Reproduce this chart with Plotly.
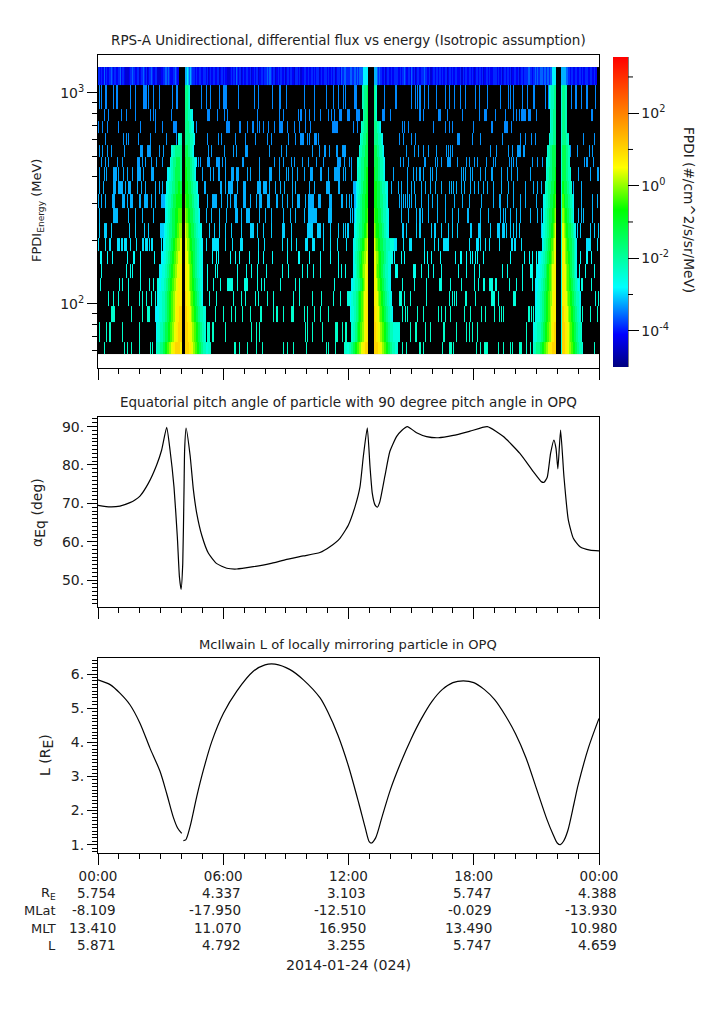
import numpy as np
import plotly.graph_objects as go

# --- data ---

# channel edges (MeV), top row first
ENERGY_EDGES = [1327, 1094, 841.2, 737.8, 647, 567.4, 497.7, 446, 382.8, 332, 284.8,
                241.7, 205.2, 178, 154.4, 132.5, 114.9, 97.5, 81.9, 65.8, 57.7]
N_BINS = 480          # 3 minute time bins
BIN_HOURS = 0.05

# log10 flux behind each letter used in the level strings
LEVEL_CHARS = "zabcdefghijklmno"
LEVEL_LOGS = [-4.4, -4.15, -3.9, -3.6, -3.2, -2.85, -2.5, -2.2, -1.8, -1.3, -0.8, -0.35, 0.0, 0.4, 0.7, 1.0]

# top channel, 10 bins per chunk ('.' = no data)
TOP_ROW = [
    "bbabaacaba", "abcbabbaab", "bcabbazzzz", "abbcbaabbz", "abbcbabzab", "bcbaabbzzz",
    "aabbccbcba", "aabbcbaa..", "...ddedcdc", "bbbabaabba", "abbabzabaa", "bbaabbzabb",
    "abaazzabab", "bacbabbzab", "aabbaabzab", "abbzaabbab", "bbcbccbabb", "zababbaabz",
    "abbabbaazb", "bbabzaabba", "abaabbabab", "bbzabaabba", "baababbzab", "bbacbbccbb",
    "bccbbccbcb", "cccceeeee.", "....dddcbc", "bbaabzabba", "abaabbbaab", "abbcbaabba",
    "cbabzabbab", "bbcbbaabzz", "abbabbabba", "babbzabbab", "aabbaaabzz", "babbabbaba",
    "zabbabbabz", "aabbabaabb", "bbabaabzab", "babbabzaab", "aabzabbabb", "bbccbbabbc",
    "bcbcccbccb", "ccbcceeee.", "....ddddcc", "bbabbaabba", "abbabaabba", "abbaabaa..",
]

# single-count flux per channel (rows 1..19)
SPECKLE_LOG = [-3.4, -3.4, -3.4, -3.35, -3.3, -3.3, -3.25, -3.2, -3.2, -3.15, -3.05, -2.95, -2.8,
               -2.65, -2.55, -2.5, -2.4, -2.35, -2.35]

# time bins with a count, rows 1..19
SPECKLE_BINS = [
    [1, 3, 7, 8, 14, 17, 18, 31, 35, 43, 44, 45, 46, 48, 53, 58, 71, 75, 76, 99, 103, 107, 116, 120, 121, 122, 123,
     134, 149, 153, 167, 173, 174, 180, 197, 207, 218, 225, 230, 235, 237, 245, 246, 247, 274, 285, 300, 304, 306,
     308, 312, 316, 324, 332, 336, 341, 347, 352, 361, 365, 373, 385, 393, 395, 398, 406, 411, 417, 418, 428, 431,
     453, 457, 458, 463, 468, 476],
    [6, 10, 22, 27, 35, 50, 53, 55, 70, 104, 105, 106, 114, 121, 124, 152, 173, 177, 192, 194, 198, 202, 207, 213,
     220, 223, 226, 231, 232, 233, 239, 240, 247, 248, 249, 250, 272, 273, 274, 280, 308, 311, 326, 327,
     328, 334, 349, 365, 370, 371, 372, 380, 390, 398, 400, 403, 405, 406, 407, 408, 409, 412, 413, 414, 420, 472, 473],
    [0, 4, 9, 19, 40, 55, 61, 72, 73, 74, 75, 94, 123, 124, 125, 135, 136, 143, 148, 152, 154, 158, 163, 169, 173,
     174, 175, 176, 181, 188, 193, 198, 203, 224, 225, 226, 227, 228, 229, 244, 248, 291, 293, 297, 321, 332, 336,
     339, 359, 377, 389, 390, 391, 392, 396],
    [7, 24, 27, 29, 38, 50, 65, 75, 104, 115, 118, 131, 141, 150, 162, 166, 182, 189, 194, 195, 196, 200, 202, 207,
     208, 209, 211, 271, 288, 292, 300, 304, 344, 345, 346, 358, 366, 387, 404, 409, 415, 419, 465, 475],
    [1, 4, 9, 12, 25, 40, 41, 42, 47, 48, 49, 50, 58, 62, 105, 108, 121, 129, 132, 141, 142, 143, 164, 175, 180, 205,
     212, 217, 221, 228, 229, 234, 235, 236, 237, 273, 295, 303, 307, 311, 316, 324, 333, 335, 337, 339, 376, 381,
     393, 397, 401, 402, 403, 404, 407, 408, 452, 459, 470, 473],
    [3, 7, 10, 18, 23, 37, 38, 39, 42, 45, 51, 56, 61, 96, 98, 104, 105, 106, 113, 114, 115, 116, 119, 122, 138, 139,
     154, 169, 173, 177, 185, 188, 195, 201, 209, 216, 229, 230, 231, 232, 236, 240, 242, 272, 273, 289, 292, 297,
     312, 313, 323, 325, 329, 334, 335, 336, 337, 344, 353, 355, 360, 363, 372, 378, 380, 394, 396, 398, 400, 416,
     421, 425, 429, 466, 468, 474],
    [1, 6, 8, 14, 15, 16, 17, 19, 24, 28, 33, 37, 38, 39, 40, 43, 51, 52, 53, 100, 107, 110, 115, 116, 122, 127, 128,
     129, 132, 133, 134, 143, 146, 154, 164, 165, 166, 173, 180, 182, 186, 191, 197, 203, 204, 205, 213, 214, 220,
     226, 227, 228, 229, 230, 231, 235, 237, 242, 283, 296, 302, 305, 308, 311, 318, 320, 324, 348, 350, 352, 356,
     358, 366, 371, 377, 386, 392, 396, 401, 414, 460, 471, 478, 479],
    [1, 5, 14, 15, 16, 19, 20, 21, 22, 23, 26, 29, 30, 31, 37, 41, 45, 55, 58, 61, 102, 117, 118, 122, 125, 126, 127,
     128, 133, 139, 140, 141, 152, 153, 154, 155, 158, 159, 160, 161, 164, 170, 174, 178, 186, 189, 202, 207, 218,
     219, 220, 221, 230, 231, 244, 245, 246, 281, 287, 290, 296, 300, 303, 309, 313, 318, 323, 329, 336, 338, 340,
     343, 348, 351, 356, 360, 364, 369, 373, 378, 386, 393, 398, 409, 417, 421, 424, 455, 463],
    [0, 3, 7, 13, 14, 15, 23, 24, 25, 28, 31, 32, 33, 39, 40, 44, 45, 46, 47, 51, 55, 60, 61, 62, 63,
     104, 109, 110, 111, 112, 113, 118, 124, 126, 130, 131, 132, 139, 140, 141, 146, 151, 154, 155, 156, 162, 163,
     164, 171, 176, 181, 186, 191, 192, 193, 198, 201, 202, 203, 204, 205, 206, 211, 212, 213, 221, 222, 223, 233,
     234, 238, 240, 242, 245, 246, 288, 290, 292, 294, 296, 298, 300, 304, 309, 316, 320, 325, 332, 341, 349, 355,
     367, 378, 384, 385, 392, 398, 404, 409, 420, 455, 463, 473, 478],
    [1, 14, 15, 16, 17, 18, 29, 35, 42, 53, 103, 108, 116, 123, 131, 132, 133, 137, 142, 143, 144, 145, 154, 160,
     166, 177, 184, 189, 197, 201, 202, 203, 204, 205, 206, 207, 208, 209, 220, 221, 222, 223, 241, 243, 245, 246,
     290, 297, 305, 308, 310, 316, 325, 332, 339, 345, 354, 366, 374, 385, 388, 390, 395, 400, 404, 414, 421, 424,
     460, 463, 465, 473],
    [1, 6, 7, 8, 12, 30, 35, 44, 48, 59, 60, 61, 62, 63, 106, 111, 116, 122, 127, 137, 146, 147, 148, 152, 158, 166,
     176, 177, 178, 185, 200, 201, 202, 203, 204, 205, 210, 211, 212, 213, 216, 222, 230, 235, 237, 239, 291, 292,
     295, 305, 308, 319, 322, 323, 329, 335, 339, 344, 356, 357, 364, 365, 366, 376, 382, 383, 384, 387, 388, 389,
     391, 395, 398, 400, 403, 424, 425, 459, 462, 471, 475, 479],
    [0, 7, 11, 18, 19, 20, 22, 23, 25, 26, 27, 31, 36, 42, 43, 45, 46, 47, 49, 51, 52, 60, 103,
     109, 110, 111, 112, 113, 114, 115, 122, 128, 136, 137, 138, 153, 159, 176, 181, 185, 190, 198, 199, 200, 205,
     206, 207, 216, 222, 229, 238, 283, 284, 285, 292, 298, 299, 300, 312, 322, 326, 331, 332, 333, 334, 335, 355,
     362, 363, 364, 366, 371, 375, 384, 396, 397, 399, 405, 458, 468, 469, 470, 471, 478],
    [2, 3, 9, 13, 28, 34, 40, 54, 60, 109, 113, 115, 126, 131, 135, 145, 153, 158, 167, 181, 192, 193, 202, 213, 222,
     230, 284, 290, 293, 312, 315, 319, 328, 342, 347, 348, 353, 356, 358, 361, 363, 369, 395, 408, 413, 416, 420,
     457, 462, 468, 472],
    [3, 27, 31, 33, 40, 104, 112, 114, 133, 142, 147, 152, 161, 176, 182, 195, 200, 206, 213, 230, 233, 237, 285,
     286, 302, 303, 304, 309, 316, 321, 329, 345, 353, 360, 365, 387, 392, 406, 414, 415, 416, 420, 461, 467, 475],
    [2, 20, 23, 29, 40, 49, 53, 57, 104, 110, 117, 124, 125, 126, 127, 128, 133, 140, 141, 142, 143, 152, 156, 159,
     174, 189, 193, 226, 291, 303, 314, 327, 328, 329, 337, 348, 360, 364, 369, 370, 375, 376, 377, 380, 381, 394,
     400, 406, 416, 461, 463, 464, 472],
    [10, 14, 19, 29, 39, 42, 46, 51, 55, 106, 113, 129, 137, 141, 150, 153, 162, 168, 187, 193, 205, 214, 225, 232,
     239, 240, 241, 243, 288, 289, 290, 293, 299, 314, 336, 339, 341, 343, 352, 353, 361, 377, 378, 379, 383, 398,
     399, 476, 479],
    [12, 13, 14, 15, 32, 42, 47, 48, 49, 55, 56, 57, 58, 59, 60, 112, 120, 127, 131, 138, 146, 155, 156, 168, 171,
     177, 185, 186, 187, 197, 200, 207, 213, 220, 291, 294, 296, 306, 311, 326, 329, 332, 337, 351, 356, 367, 371,
     379, 384, 386, 388, 412, 413, 415, 417, 464, 471, 478],
    [1, 8, 11, 23, 39, 58, 59, 104, 105, 106, 109, 110, 122, 147, 151, 154, 198, 200, 205, 215, 227, 228,
     229, 234, 237, 238, 299, 304, 305, 313, 318, 331, 343, 353, 355, 358, 363, 410],
    [6, 25, 28, 32, 39, 50, 52, 104, 105, 106, 107, 130, 131, 135, 143, 151, 157, 177, 181, 187, 199, 218, 220, 227,
     236, 237, 238, 239, 240, 291, 295, 308, 311, 330, 336, 337, 338, 340, 362, 366, 370, 371, 372, 373, 383, 388,
     395, 397, 403, 404, 405, 410, 414, 463, 475],
]

# belt crossings: levels outer to inner for the arm before the gap, inner to outer after it (rows 1..19)
BAND_GAPS = [(80, 83), (259, 264), (439, 444)]
BAND_1_LEFT = ["", "", "", "ffg", "ffgghhhhhh", "fgghhhiiiih", "eeffgghhiiiiih", "effggghhhiiijji",
               "effggghhiiijjjjj", "effgghhiiijjjkkk", "effgghhhiiijjkkll", "eefggghhiijjkklllm",
               "eeffgghhiijjkkllmmm", "eeefffgghhiijjkkllmmmn", "eefffgghhiijjkkllmmnnn",
               "efffggghhiijjkkllmmnnnn", "eeefffggghhiijjkkllmnnnoo", "effggghhiiijjkkllmmnnooo",
               "fgghhhiijjkkllmmnnooooon"]
BAND_1_RIGHT = ["hhhgf", "hhhggffe", "hhhhggffe", "hhhhhgggfe", "iiihhggfe", "jiiiihhggfee", "jjiiihhggfe",
                "jjjiiihhgggfe", "kjjjiiihhgggfe", "lkkjjiiihhgggfe", "mllkjjiiihhggfffe", "mmllkjjiiihhggffee",
                "nmmlkkjjiihhggfffe", "nnmmlkkjiihhggfffe", "nnmmlkkjjiihhggffe", "onnmmlkkjjiihhggfe",
                "oonnmmlkkjjiihhgggff", "ooonnmmllkkjjiihhggf", "oooonnmmllkkjjiihhggff"]
BAND_2_LEFT = ["gghhhi", "ghhhi", "fgghhhi", "fgghhhii", "fgghhhiii", "ffgghhhiiii", "fggghhhiijj", "effgghhiiijj",
               "efgghhiiijjj", "efggghhiiijjk", "effgghhhiijjkl", "effgghhiijjkllm", "efgghhiijkkllmm",
               "effghhijjkllmmn", "eeffggghhiijklmmn", "effggghhijjkklmmnn", "efffgghhijjkklmnnn",
               "ffgghhijjkkllmnnn", "fgghhiijjkkllmmnnooo"]
BAND_2_RIGHT = ["hgf", "hgf", "hhhggfe", "hhhhgggfe", "iiihhgggfe", "iiiihhgggfe", "jiiihhgggfe", "jjjiiihhgggffe",
                "jjjiiihhhgggfe", "kjjjiiihhgggffe", "lkjjjiiihhggffe", "mlkkjjiiihhhggggffff", "mmllkjjiiihhggffffe",
                "nmlkkjjiihhgggffe", "nmmlkkjjiihhggffe", "nnmmlkkjjiihhggffe", "onnmmlkkjjiihhggffe",
                "oonnmmllkkjjiihhgggffffff", "oooonnmmllkkjjiihhgggff"]
BAND_3_LEFT = ["ffggghh", "fgghhh", "fgghhh", "fggghhh", "fgghhiiii", "ffgghhiiii", "fgghhhiiij", "fgghhhiiijj",
               "effgghhiiijjk", "efgghhiiijjkl", "effgghhiijjklm", "efgghhiijkklmm", "eeffgghhiijjkllmn",
               "eeffgghhijjkklmmnn", "eeeffgghhiijjkklmmnn", "eeffgghhiijjkkllmnnn", "efffgghhiijjkklmmnnn",
               "efffggghhiijjkkllmnnoo", "fgghhhiijjkkllmmnnoooo"]
BAND_3_RIGHT = ["fhhgg", "fhhgg", "fhhgg", "fhhhggf", "fiiihhgg", "fiiihhgg", "fiiihhggf", "fjiiihhggf",
                "fkjiiihhggfe", "flkjjiihhgge", "fmlkjjiiihhgfe", "fmmlkjjiiihhgfe", "fnmlkkjjiihhgfe",
                "fnmmlkkjiihhgfe", "fnnmlkkjjiihhggfe", "fnnmmlkkjjiihhgggfe", "fonnmmlkkjjiihhggff",
                "foonnmmlkkjjiihhgggf", "foonnmmllkkjjiihhgggf"]

# equatorial pitch angle
PITCH_HOURS = [0, 0.58, 1.05, 1.53, 1.77, 2.01, 2.41, 2.81, 3.05, 3.29, 3.45, 3.64, 3.8, 3.9, 3.98, 4.06, 4.12, 4.15, 4.22,
               4.41, 4.57, 4.73, 4.97, 5.29, 5.69, 6.17, 6.65, 7.44, 8.24, 9.04, 9.84, 10.63, 11.11, 11.59, 11.99,
               12.31, 12.55, 12.71, 12.9, 13.03, 13.14, 13.27, 13.38, 13.5, 13.74, 13.98, 14.3, 14.55, 14.82, 15.26, 15.74,
               16.3, 17.02, 17.82, 18.65, 19.42, 20.21, 20.85, 21.25, 21.37, 21.52, 21.68, 21.84, 21.94, 22.03, 22.16,
               22.32, 22.53, 22.77, 23.09, 23.57, 24]
PITCH_DEG = [69.5, 69.1, 69.3, 70.2, 70.9, 71.9, 75.2, 80, 83.9, 89.8, 83.9, 74.3, 61.3, 50.9, 47.6, 54.3, 73.5, 83.9, 89.6,
             82.6, 73.5, 67.4, 61.7, 57, 54.3, 53.1, 52.9, 53.5, 54.3, 55.4, 56.3, 57.2, 58.7, 60.9, 64.3,
             69.1, 74.3, 82.2, 89.7, 79.6, 72.6, 69.6, 69, 70.4, 77, 83.5, 87.4, 89, 90, 88.4, 87.4,
             87.1, 87.7, 88.8, 90, 87.4, 83, 78.3, 75.6, 75.5, 76.8, 83, 86.5, 84.3, 79, 89.1,
             77, 65.7, 60.9, 58.7, 57.8, 57.6]

# McIlwain L (None = the small break in the line)
L_HOURS = [0, 0.58, 1.05, 1.53, 2.01, 2.49, 2.97, 3.29, 3.61, 3.82, 4.01, 4.05, 4.09, 4.2, 4.41, 4.73, 5.05, 5.45,
           6.01, 6.65, 7.44, 8, 8.48, 9.2, 9.84, 10.64, 11, 11.5, 12, 12.5, 12.8, 13, 13.1, 13.3, 13.6, 14, 14.5, 15,
           15.5, 16, 16.5, 17, 17.5, 18, 18.5, 19, 19.5, 20, 20.5, 21, 21.5, 21.8, 22, 22.15, 22.3, 22.5, 22.8, 23,
           23.5, 24]
L_VALUES = [5.83, 5.69, 5.44, 5.1, 4.56, 3.83, 3.15, 2.5, 1.8, 1.48, 1.33, None, 1.12, 1.14, 1.53, 2.41, 3.19, 4.02,
            4.85, 5.5, 6.08, 6.27, 6.29, 6.13, 5.83, 5.3, 4.9, 4.2, 3.3, 2.2, 1.5, 1.08, 1.05, 1.2, 1.8, 2.6, 3.4, 4.1,
            4.7, 5.2, 5.55, 5.75, 5.8, 5.75, 5.55, 5.25, 4.8, 4.25, 3.55, 2.65, 1.75, 1.3, 1.05, 1.0, 1.1, 1.4, 2.2,
            2.75, 3.85, 4.7]

# ephemeris table under the plots
TICK_HOURS = [0, 6, 12, 18, 24]
TICK_TIMES = ["00:00", "06:00", "12:00", "18:00", "00:00"]
RE_ROW = ["5.754", "4.337", "3.103", "5.747", "4.388"]
MLAT_ROW = ["-8.109", "-17.950", "-12.510", "-0.029", "-13.930"]
MLT_ROW = ["13.410", "11.070", "16.950", "13.490", "10.980"]
L_ROW = ["5.871", "4.792", "3.255", "5.747", "4.659"]

# colour scale stops: (log10 flux, colour)
CBAR_MIN, CBAR_MAX = -5.0, 3.55
CBAR_STOPS = [(-5.0, "#00007f"), (-4.1, "#0000ff"), (-2.8, "#00ffff"), (-0.66, "#00ff00"), (0.5, "#ffff00"), (3.55, "#ff0000")]

# --- page layout (pixels) ---
W, H = 725, 1019
FONT = "DejaVu Sans"
TEXT = "#222222"
X0, X1 = 98, 599
def px(x): return x / W
def py(y): return 1 - y / H

# --- build flux grid ---
level_of = dict(zip(LEVEL_CHARS, LEVEL_LOGS))
z = np.full((20, N_BINS), np.nan)

for i, ch in enumerate("".join(TOP_ROW)[:N_BINS]):
    if ch != ".":
        z[0, i] = level_of[ch]

for r, bins in enumerate(SPECKLE_BINS):
    for b in bins:
        z[r + 1, b] = SPECKLE_LOG[r]

bands = [(BAND_1_LEFT, BAND_1_RIGHT), (BAND_2_LEFT, BAND_2_RIGHT), (BAND_3_LEFT, BAND_3_RIGHT)]
for (left, right), (gap_start, gap_end) in zip(bands, BAND_GAPS):
    for r in range(19):
        start = gap_start - len(left[r])
        z[r + 1, start:gap_end] = np.nan
        for k, ch in enumerate(left[r]):
            z[r + 1, start + k] = level_of[ch]
        for k, ch in enumerate(right[r]):
            z[r + 1, gap_end + k] = level_of[ch]

x_edges = np.arange(N_BINS + 1) * BIN_HOURS
y_edges = ENERGY_EDGES[::-1]
colorscale = [[(v - CBAR_MIN) / (CBAR_MAX - CBAR_MIN), c] for v, c in CBAR_STOPS]

fig = go.Figure()

# black backdrop where no counts were seen
fig.add_trace(go.Heatmap(x=[0, 24], y=y_edges, z=[[0]] * 20, colorscale=[[0, "black"], [1, "black"]],
                         showscale=False, hoverinfo="skip", xaxis="x", yaxis="y"))
fig.add_trace(go.Heatmap(
    x=x_edges, y=y_edges, z=z[::-1], zmin=CBAR_MIN, zmax=CBAR_MAX, colorscale=colorscale, xaxis="x", yaxis="y",
    colorbar=dict(
        x=px(613), xanchor="left", xpad=0, y=py(57), yanchor="top", ypad=0,
        len=310, lenmode="pixels", thickness=15, thicknessmode="pixels", outlinewidth=0,
        tickmode="array", tickvals=[-4, -2, 0, 2],
        ticktext=["10<sup>-4</sup>", "10<sup>-2</sup>", "10<sup>0</sup>", "10<sup>2</sup>"],
        ticks="outside", ticklen=11, tickcolor="black", tickfont=dict(family=FONT, size=14, color=TEXT),
    ),
))
fig.add_trace(go.Scatter(x=PITCH_HOURS, y=PITCH_DEG, mode="lines",
                         line=dict(color="black", width=1.2, shape="spline", smoothing=0.5),
                         xaxis="x2", yaxis="y2", showlegend=False))
fig.add_trace(go.Scatter(x=L_HOURS, y=L_VALUES, mode="lines",
                         line=dict(color="black", width=1.2, shape="spline", smoothing=0.8),
                         xaxis="x3", yaxis="y3", showlegend=False))

# --- axes ---
hour_minor = [h for h in range(25) if h % 6]
def x_axis(anchor, labels=False):
    return dict(domain=[px(X0), px(X1)], range=[0, 24], anchor=anchor, showgrid=False, zeroline=False,
                showline=True, linecolor="black", linewidth=1, mirror=True,
                tickmode="array", tickvals=TICK_HOURS, ticktext=TICK_TIMES, showticklabels=labels,
                ticks="outside", ticklen=11, tickcolor="black", tickfont=dict(family=FONT, size=13.5, color=TEXT),
                minor=dict(tickmode="array", tickvals=hour_minor, ticks="outside", ticklen=5, tickcolor="black"))

def y_axis(anchor, top, bottom, rng, vals, text, minor, kind="linear"):
    return dict(domain=[py(bottom), py(top)], range=rng, type=kind, anchor=anchor, showgrid=False, zeroline=False,
                showline=True, linecolor="black", linewidth=1, mirror=True,
                tickmode="array", tickvals=vals, ticktext=text,
                ticks="outside", ticklen=10, tickcolor="black", tickfont=dict(family=FONT, size=14, color=TEXT),
                minor=dict(tickmode="array", tickvals=minor, ticks="outside", ticklen=5, tickcolor="black"))

energy_minor = [60, 70, 80, 90, 200, 300, 400, 500, 600, 700, 800, 900]
pitch_major = [50, 60, 70, 80, 90]
pitch_minor = [v for v in range(44, 93) if v not in pitch_major]
l_major = [1, 2, 3, 4, 5, 6]
l_minor = [v / 10 for v in range(8, 65) if v % 10]

fig.update_layout(
    width=W, height=H, autosize=False, showlegend=False,
    margin=dict(l=0, r=0, t=0, b=0, autoexpand=False),
    paper_bgcolor="white", plot_bgcolor="white",
    font=dict(family=FONT, size=13, color=TEXT),
    xaxis=x_axis("y"), xaxis2=x_axis("y2"), xaxis3=x_axis("y3", labels=True),
    yaxis=y_axis("x", 55, 368, [1.696, 3.18], [100, 1000], ["10<sup>2</sup>", "10<sup>3</sup>"], energy_minor, "log"),
    yaxis2=y_axis("x2", 417, 607, [43, 92.5], pitch_major, [f"{v}." for v in pitch_major], pitch_minor),
    yaxis3=y_axis("x3", 658, 853, [0.757, 6.47], l_major, [f"{v}." for v in l_major], l_minor),
)

# --- text ---
def label(x, y, text, size=13.5, angle=0, anchor="center"):
    fig.add_annotation(xref="paper", yref="paper", x=px(x), y=py(y), text=text, showarrow=False, textangle=angle,
                       xanchor=anchor, yanchor="middle", font=dict(family=FONT, size=size, color=TEXT))

label(348, 40, "RPS-A Unidirectional, differential flux vs energy (Isotropic assumption)", 13.5)
label(348, 402, "Equatorial pitch angle of particle with 90 degree pitch angle in OPQ", 13.5)
label(348, 644, "McIlwain L of locally mirroring particle in OPQ", 13.1)
label(37, 211, "FPDI<sub>Energy</sub> (MeV)", 13, -90)
label(38, 513, "α<sub><span style='font-size:14px'>Eq</span></sub> (deg)", 14, -90)
label(46, 755, "L (R<sub><span style='font-size:14px'>E</span></sub>)", 14, -90)
label(689, 210, "FPDI (#/cm^2/s/sr/MeV)", 13.7, 90)
label(348, 965, "2014-01-24 (024)", 14.2)

rows = [("R<sub>E</sub>", RE_ROW, 893), ("MLat", MLAT_ROW, 910), ("MLT", MLT_ROW, 928), ("L", L_ROW, 945)]
for name, values, y in rows:
    label(58, y, name, 13, anchor="right")
    for hour, value in zip(TICK_HOURS, values):
        label(X0 + hour * (X1 - X0) / 24 + 20, y, value, 13.5, anchor="right")

# colour bar: short unlabelled ticks and the axis line
for v in [-3, -1, 1, 3]:
    tick_y = 57 + (CBAR_MAX - v) / (CBAR_MAX - CBAR_MIN) * 310
    fig.add_shape(type="line", xref="paper", yref="paper", x0=px(628), x1=px(633), y0=py(tick_y), y1=py(tick_y),
                  line=dict(color="black", width=1))
fig.add_shape(type="line", xref="paper", yref="paper", x0=px(628), x1=px(628), y0=py(57), y1=py(367),
              line=dict(color="black", width=1))

fig.write_html("out.html", config={"displayModeBar": False}, post_script="document.body.style.margin='0';")
